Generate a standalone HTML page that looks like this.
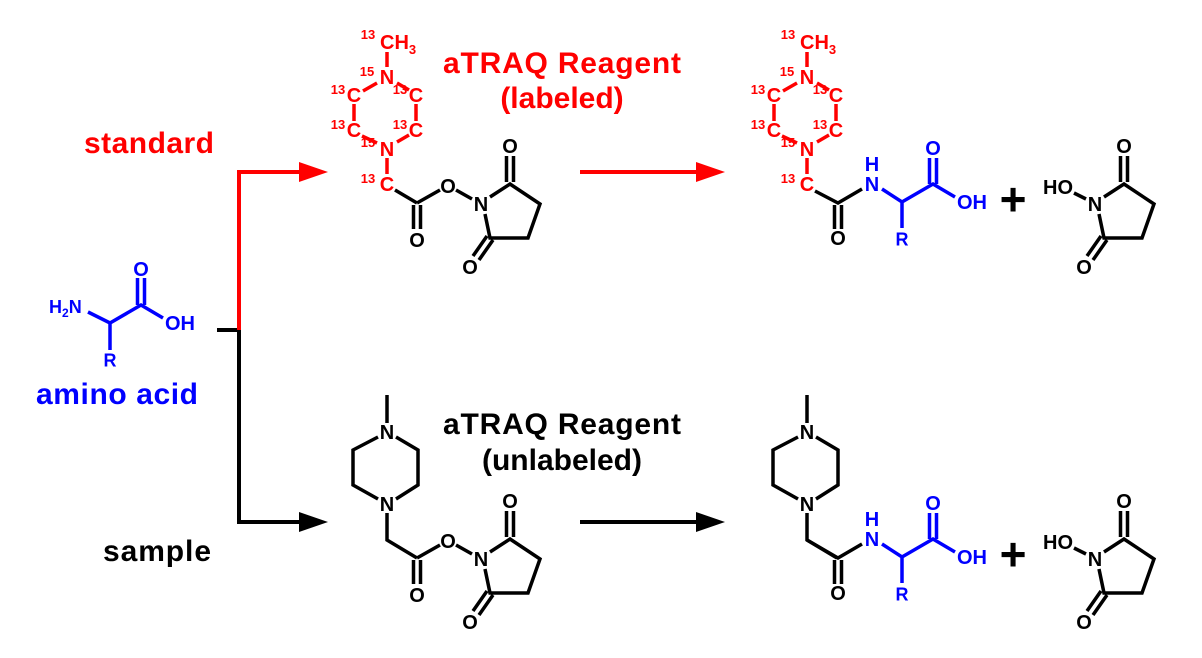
<!DOCTYPE html>
<html><head><meta charset="utf-8"><style>
html,body{margin:0;padding:0;background:#fff;}
svg{display:block;}
text{font-family:"Liberation Sans",Arial,sans-serif;font-weight:bold;}
.a{font-size:20px;text-anchor:middle;}
.s{font-size:13px;text-anchor:middle;}
.big{font-size:30px;text-anchor:middle;}
.plus{font-size:46px;text-anchor:middle;}
.r{font-size:18px;text-anchor:middle;}
</style></head><body>
<svg width="1202" height="658" viewBox="0 0 1202 658" xmlns="http://www.w3.org/2000/svg">
<g stroke-width="4" fill="none" stroke-linecap="butt">
<path d="M217 330 H241" stroke="#000"/>
<path d="M239 524 V330" stroke="#000"/>
<path d="M239 330 V172 H302" stroke="#f00"/>
<path d="M239 522 H302" stroke="#000"/>
<path d="M580 172 H700" stroke="#f00"/>
<path d="M580 522 H700" stroke="#000"/>
</g>
<polygon points="299,162 328,172 299,182" fill="#f00"/>
<polygon points="299,512 328,522 299,532" fill="#000"/>
<polygon points="696,162 725,172 696,182" fill="#f00"/>
<polygon points="696,512 725,522 696,532" fill="#000"/>

<text class="big" x="149" y="153" fill="#f00" textLength="130">standard</text>
<text class="big" x="117" y="404" fill="#00f" textLength="162">amino acid</text>
<text class="big" x="157" y="561" fill="#000" textLength="108">sample</text>
<text class="big" x="562" y="73" fill="#f00" textLength="238">aTRAQ Reagent</text>
<text class="big" x="562" y="108" fill="#f00">(labeled)</text>
<text class="big" x="562" y="434" fill="#000" textLength="238">aTRAQ Reagent</text>
<text class="big" x="562" y="470" fill="#000">(unlabeled)</text>

<!-- amino acid -->
<g>
<path d="M88 312 L110 323 L141 305 L163 318 M110 323 V350 M137.5 305 V278 M144.5 305 V278" stroke="#00f" stroke-width="3.5" fill="none"/>
<g fill="#00f">
<text class="a" x="141" y="269" dy="0.35em">O</text>
<text class="a" x="180" y="323" dy="0.35em">OH</text>
<text class="r" x="110" y="360" dy="0.35em">R</text>
<text x="49" y="313" style="font-size:18px">H<tspan style="font-size:12px" dy="4">2</tspan><tspan dy="-4">N</tspan></text>
</g>
</g>

<!-- labeled piperazine -->
<g>
<path d="M387 52 V67 M377 83 L363 91 M397 83 L409 90 M354 104 V121 M416 104 V121 M362 136 L377 143 M409 135 L397 142 M387 158 V174" stroke="#f00" stroke-width="3.5"/>
<g fill="#f00">
<text x="380" y="49" style="font-size:20px">CH<tspan style="font-size:13px" dy="5">3</tspan></text>
<text class="s" x="368" y="39">13</text>
<text class="a" x="387" y="77" dy="0.35em">N</text><text class="s" x="367" y="76">15</text>
<text class="a" x="354" y="95" dy="0.35em">C</text><text class="s" x="338" y="94">13</text>
<text class="a" x="416" y="95" dy="0.35em">C</text><text class="s" x="400" y="94">13</text>
<text class="a" x="354" y="130" dy="0.35em">C</text><text class="s" x="338" y="129">13</text>
<text class="a" x="416" y="130" dy="0.35em">C</text><text class="s" x="400" y="129">13</text>
<text class="a" x="387" y="149" dy="0.35em">N</text><text class="s" x="368" y="147">15</text>
<text class="a" x="387" y="184" dy="0.35em">C</text><text class="s" x="368" y="183">13</text>
</g>
<path d="M395 190 L417 203" stroke="#000" stroke-width="3.5"/>
</g>
<g transform="translate(420,0)">
<path d="M387 52 V67 M377 83 L363 91 M397 83 L409 90 M354 104 V121 M416 104 V121 M362 136 L377 143 M409 135 L397 142 M387 158 V174" stroke="#f00" stroke-width="3.5"/>
<g fill="#f00">
<text x="380" y="49" style="font-size:20px">CH<tspan style="font-size:13px" dy="5">3</tspan></text>
<text class="s" x="368" y="39">13</text>
<text class="a" x="387" y="77" dy="0.35em">N</text><text class="s" x="367" y="76">15</text>
<text class="a" x="354" y="95" dy="0.35em">C</text><text class="s" x="338" y="94">13</text>
<text class="a" x="416" y="95" dy="0.35em">C</text><text class="s" x="400" y="94">13</text>
<text class="a" x="354" y="130" dy="0.35em">C</text><text class="s" x="338" y="129">13</text>
<text class="a" x="416" y="130" dy="0.35em">C</text><text class="s" x="400" y="129">13</text>
<text class="a" x="387" y="149" dy="0.35em">N</text><text class="s" x="368" y="147">15</text>
<text class="a" x="387" y="184" dy="0.35em">C</text><text class="s" x="368" y="183">13</text>
</g>
</g>

<!-- unlabeled piperazine -->
<g transform="translate(0,355)">
<path d="M387 40 V68 M378 82 L353 95 V130 L378 144 M396 82 L418 95 V130 L396 144 M387 158 V185 L417 203" stroke="#000" stroke-width="3.5" fill="none"/>
<text class="a" x="387" y="77" dy="0.35em">N</text>
<text class="a" x="387" y="149" dy="0.35em">N</text>
</g>
<g transform="translate(420,355)">
<path d="M387 40 V68 M378 82 L353 95 V130 L378 144 M396 82 L418 95 V130 L396 144 M387 158 V185 L417 203" stroke="#000" stroke-width="3.5" fill="none"/>
<text class="a" x="387" y="77" dy="0.35em">N</text>
<text class="a" x="387" y="149" dy="0.35em">N</text>
</g>

<!-- ester + NHS -->
<g>
<path d="M413.5 205 V229 M420.5 205 V229 M417 203 L440 190 M456 190 L472 199 M490 197 L510 184 L540 204 L528 238 L490 238 L485 214 M506.5 182 V156 M513.5 182 V156 M487 236 L473 256 M493 240 L479 260" stroke="#000" stroke-width="3.5" fill="none"/>
<text class="a" x="417" y="240" dy="0.35em">O</text>
<text class="a" x="448" y="186" dy="0.35em">O</text>
<text class="a" x="481" y="204" dy="0.35em">N</text>
<text class="a" x="510" y="146" dy="0.35em">O</text>
<text class="a" x="470" y="267" dy="0.35em">O</text>
</g>
<g transform="translate(0,355)">
<path d="M413.5 205 V229 M420.5 205 V229 M417 203 L440 190 M456 190 L472 199 M490 197 L510 184 L540 204 L528 238 L490 238 L485 214 M506.5 182 V156 M513.5 182 V156 M487 236 L473 256 M493 240 L479 260" stroke="#000" stroke-width="3.5" fill="none"/>
<text class="a" x="417" y="240" dy="0.35em">O</text>
<text class="a" x="448" y="186" dy="0.35em">O</text>
<text class="a" x="481" y="204" dy="0.35em">N</text>
<text class="a" x="510" y="146" dy="0.35em">O</text>
<text class="a" x="470" y="267" dy="0.35em">O</text>
</g>

<!-- NHS byproducts -->
<g transform="translate(614,0)">
<path d="M460 193 L472 199 M490 197 L510 184 L540 204 L528 238 L490 238 L485 214 M506.5 182 V156 M513.5 182 V156 M487 236 L473 256 M493 240 L479 260" stroke="#000" stroke-width="3.5" fill="none"/>
<text class="a" x="444" y="187" dy="0.35em">HO</text>
<text class="a" x="481" y="204" dy="0.35em">N</text>
<text class="a" x="510" y="146" dy="0.35em">O</text>
<text class="a" x="470" y="267" dy="0.35em">O</text>
</g>
<g transform="translate(614,355)">
<path d="M460 193 L472 199 M490 197 L510 184 L540 204 L528 238 L490 238 L485 214 M506.5 182 V156 M513.5 182 V156 M487 236 L473 256 M493 240 L479 260" stroke="#000" stroke-width="3.5" fill="none"/>
<text class="a" x="444" y="187" dy="0.35em">HO</text>
<text class="a" x="481" y="204" dy="0.35em">N</text>
<text class="a" x="510" y="146" dy="0.35em">O</text>
<text class="a" x="470" y="267" dy="0.35em">O</text>
</g>

<!-- products -->
<g>
<path d="M815 191 L838 203 L862 189 M834.5 205 V229 M841.5 205 V229" stroke="#000" stroke-width="3.5" fill="none"/>
<text class="a" x="838" y="238" dy="0.35em">O</text>
<path d="M882 189 L902 202 L933 184 L955 197 M902 202 V228 M929.5 184 V158 M936.5 184 V158" stroke="#00f" stroke-width="3.5" fill="none"/>
<g fill="#00f">
<text class="a" x="872" y="184" dy="0.35em">N</text>
<text class="a" x="872" y="164" dy="0.35em">H</text>
<text class="a" x="933" y="148" dy="0.35em">O</text>
<text class="a" x="972" y="202" dy="0.35em">OH</text>
<text class="r" x="902" y="239" dy="0.35em">R</text>
</g>
<text class="plus" x="1013" y="199" dy="0.35em">+</text>
</g>
<g transform="translate(0,355)">
<path d="M807 185 L838 203 L862 189 M834.5 205 V229 M841.5 205 V229" stroke="#000" stroke-width="3.5" fill="none"/>
<text class="a" x="838" y="238" dy="0.35em">O</text>
<path d="M882 189 L902 202 L933 184 L955 197 M902 202 V228 M929.5 184 V158 M936.5 184 V158" stroke="#00f" stroke-width="3.5" fill="none"/>
<g fill="#00f">
<text class="a" x="872" y="184" dy="0.35em">N</text>
<text class="a" x="872" y="164" dy="0.35em">H</text>
<text class="a" x="933" y="148" dy="0.35em">O</text>
<text class="a" x="972" y="202" dy="0.35em">OH</text>
<text class="r" x="902" y="239" dy="0.35em">R</text>
</g>
<text class="plus" x="1013" y="199" dy="0.35em">+</text>
</g>
</svg>
</body></html>
